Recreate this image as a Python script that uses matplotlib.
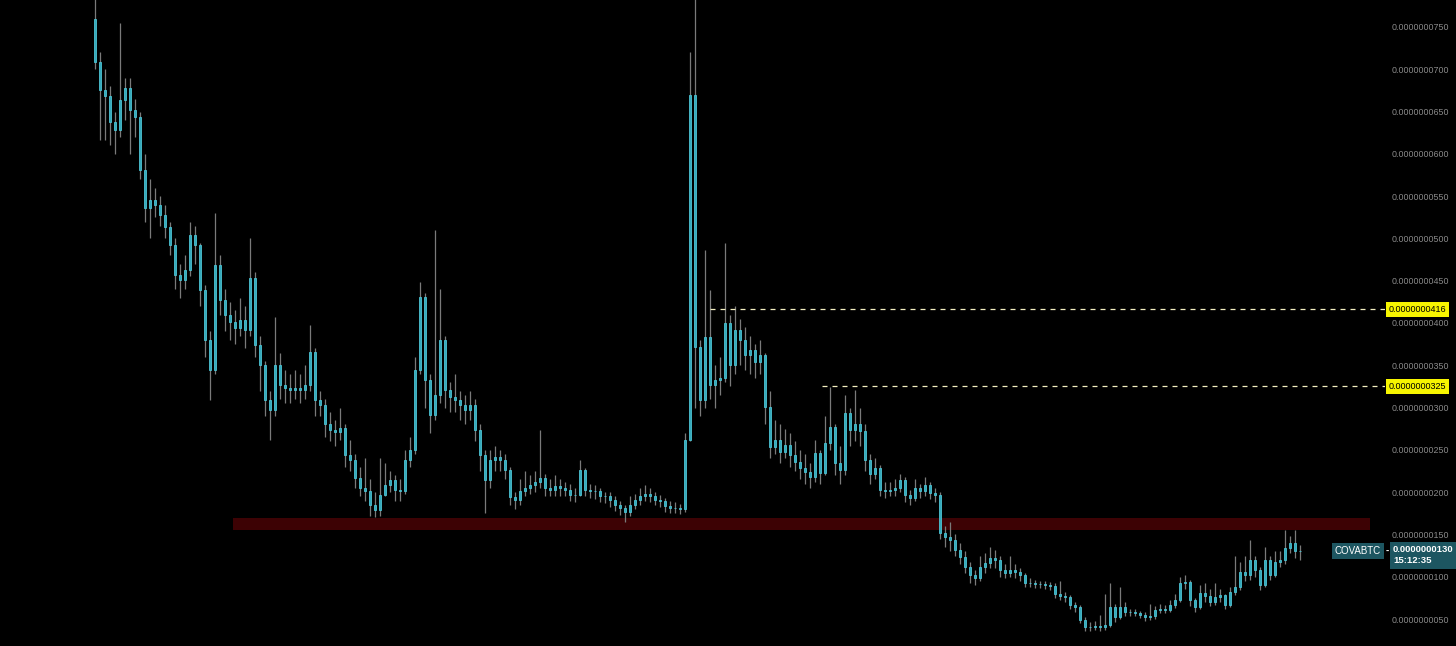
import matplotlib
matplotlib.use("Agg")
import numpy as np
import matplotlib.pyplot as plt
from matplotlib.patches import Rectangle

plt.rcParams['font.family'] = ['Liberation Sans', 'DejaVu Sans']

# prices in units of 1e-10 BTC (0.0000000750 -> 750)
first_open = 760
closes = [
    709, 676, 668, 638, 628, 664, 678, 652, 643, 581,
    536, 545, 540, 528, 513, 492, 457, 451, 463, 504,
    492, 439, 380, 344, 469, 427, 410, 401, 394, 404,
    392, 453, 374, 350, 309, 297, 350, 327, 323, 321,
    323, 321, 327, 366, 309, 303, 280, 274, 271, 276,
    244, 238, 217, 205, 201, 185, 179, 197, 209, 214,
    203, 201, 238, 250, 344, 431, 333, 291, 315, 380,
    321, 312, 309, 303, 297, 303, 274, 244, 214, 238,
    241, 238, 226, 194, 191, 201, 205, 209, 212, 217,
    205, 203, 207, 205, 203, 197, 197, 226, 203, 201,
    201, 196, 195, 191, 185, 181, 177, 185, 191, 195,
    198, 196, 191, 189, 184, 181, 181, 180, 262, 670,
    372, 309, 383, 327, 333, 335, 400, 350, 392, 380,
    362, 368, 354, 362, 301, 253, 262, 248, 256, 244,
    236, 229, 224, 218, 246, 223, 258, 277, 235, 226,
    294, 274, 280, 272, 238, 221, 229, 203, 201, 203,
    205, 214, 197, 193, 205, 201, 209, 199, 197, 152,
    147, 143, 132, 123, 112, 102, 98, 112, 116, 122,
    120, 108, 104, 108, 106, 102, 93, 93, 91, 91,
    90, 89, 80, 77, 76, 67, 64, 49, 41, 41,
    42, 40, 43, 64, 52, 64, 58, 58, 57, 55,
    52, 54, 61, 62, 61, 67, 72, 93, 94, 72,
    64, 81, 77, 70, 76, 78, 67, 82, 88, 106,
    102, 120, 108, 90, 120, 102, 118, 120, 134, 140,
    131, 130,
]
highs = [
    800, 720, 700, 680, 650, 755, 690, 690, 665, 650,
    600, 570, 560, 550, 540, 520, 500, 470, 480, 520,
    515, 495, 445, 390, 530, 480, 440, 425, 415, 430,
    420, 501, 460, 385, 355, 320, 407, 365, 345, 340,
    345, 340, 350, 398, 370, 320, 310, 295, 285, 300,
    280, 262, 245, 230, 240, 215, 200, 240, 235, 225,
    220, 215, 250, 265, 360, 449, 435, 340, 510, 440,
    385, 330, 340, 320, 315, 320, 310, 280, 250, 250,
    255, 250, 245, 230, 200, 215, 225, 220, 225, 274,
    222, 215, 220, 215, 212, 210, 205, 238, 228, 210,
    208, 205, 200, 200, 195, 190, 185, 195, 198, 205,
    208, 205, 200, 197, 193, 190, 188, 186, 270, 720,
    790, 380, 486, 439, 350, 360, 495, 410, 420, 405,
    395, 385, 375, 380, 365, 320, 285, 280, 275, 270,
    260, 250, 245, 235, 262, 250, 290, 324, 280, 255,
    315, 300, 321, 300, 280, 245, 240, 232, 212, 212,
    215, 222, 218, 202, 215, 210, 218, 212, 205, 200,
    160, 165, 150, 140, 130, 118, 108, 125, 128, 135,
    132, 125, 115, 125, 115, 110, 105, 98, 96, 95,
    95, 94, 92, 95, 82, 78, 70, 67, 52, 46,
    48, 55, 80, 93, 68, 88, 70, 62, 62, 60,
    58, 68, 65, 68, 67, 72, 80, 100, 102, 96,
    75, 90, 92, 85, 92, 85, 80, 88, 125, 118,
    125, 143, 125, 112, 135, 125, 130, 130, 155, 148,
    155, 138,
]
lows = [
    700, 616, 616, 610, 600, 620, 640, 600, 620, 570,
    520, 500, 525, 515, 500, 480, 440, 430, 440, 455,
    470, 420, 360, 309, 340, 410, 390, 380, 375, 385,
    370, 385, 360, 320, 290, 262, 290, 310, 305, 305,
    310, 305, 310, 320, 290, 290, 265, 260, 255, 262,
    230, 225, 205, 195, 190, 172, 171, 172, 195, 200,
    190, 190, 198, 230, 245, 340, 300, 270, 285, 305,
    300, 295, 295, 285, 280, 285, 260, 225, 175, 205,
    225, 225, 215, 185, 180, 185, 195, 198, 200, 205,
    195, 195, 195, 196, 195, 190, 188, 195, 195, 193,
    192, 188, 187, 182, 178, 173, 165, 172, 180, 185,
    190, 188, 185, 182, 177, 175, 175, 174, 176, 260,
    300, 290, 300, 310, 300, 315, 330, 325, 340, 350,
    345, 340, 335, 340, 280, 240, 245, 235, 240, 230,
    225, 215, 210, 205, 212, 210, 220, 250, 220, 210,
    220, 255, 260, 255, 225, 210, 215, 195, 193, 195,
    196, 200, 188, 185, 190, 193, 196, 192, 188, 145,
    135, 130, 125, 115, 105, 92, 90, 95, 105, 110,
    110, 100, 98, 100, 98, 95, 88, 88, 87, 87,
    86, 84, 75, 72, 70, 62, 58, 45, 36, 36,
    37, 36, 37, 40, 47, 50, 54, 54, 53, 51,
    48, 49, 50, 57, 57, 58, 63, 70, 85, 65,
    58, 62, 70, 65, 66, 70, 62, 64, 78, 84,
    95, 96, 100, 84, 88, 96, 100, 112, 115, 128,
    122, 120,
]

tick_values = [50, 100, 150, 200, 250, 300, 350, 400, 450, 500, 550, 600, 650, 700, 750]
zone_low, zone_high = 155, 169
zone_start, zone_end = 27.6, 255
level_lines = [(416, 123), (325, 145.4)]
last_price = 130
symbol = "COVABTC"
countdown = "15:12:35"


def fmt(v):
    return f"{v * 1e-10:.10f}"


opens = [first_open] + closes[:-1]
idx = np.arange(len(closes))
o = np.array(opens, dtype=float)
c = np.array(closes, dtype=float)

bg = "#000000"
tag_color = "#1d5661"
fig = plt.figure(figsize=(14.56, 6.46), dpi=100, facecolor=bg)
ax = fig.add_axes([0, 0, 1385 / 1456, 1])
ax.set_facecolor(bg)

# wicks then bodies
ax.vlines(idx, lows, highs, color="#7a7a7a", linewidth=0.9, zorder=2)
ax.bar(idx, np.abs(c - o), bottom=np.minimum(o, c), width=0.5,
       color="#36a9bb", edgecolor="#4cc4d4", linewidth=0.6, zorder=3)

# support zone
ax.add_patch(Rectangle((zone_start, zone_low), zone_end - zone_start, zone_high - zone_low,
                       facecolor="#3d0204", edgecolor="none", zorder=1))

ax.set_xlim(-19, (1385 - 95) / 5)
ax.set_ylim(18.1, 781.9)

# horizontal levels with yellow labels
for lvl, start in level_lines:
    ax.plot([start, ax.get_xlim()[1]], [lvl, lvl], color="#f3efc0", linewidth=0.9,
            dashes=(4, 4), zorder=4)
    ax.annotate(fmt(lvl), xy=(1, lvl), xycoords=("axes fraction", "data"),
                xytext=(4, 0), textcoords="offset pixels", ha="left", va="center",
                fontsize=6.5, color="#000000", annotation_clip=False,
                bbox=dict(boxstyle="square,pad=0.3", facecolor="#f7f500", edgecolor="none"))

# price axis on right
ax.yaxis.tick_right()
ax.set_yticks(tick_values)
ax.set_yticklabels([fmt(v) for v in tick_values])
ax.tick_params(axis="y", length=0, pad=5, labelsize=6.4, labelcolor="#8a8a8a")
ax.set_xticks([])
for s in ax.spines.values():
    s.set_visible(False)

# last price tag
ax.annotate(symbol, xy=(1, last_price), xycoords=("axes fraction", "data"),
            xytext=(-4, 0), textcoords="offset pixels", ha="right", va="center",
            fontsize=7, color="white", annotation_clip=False,
            bbox=dict(boxstyle="square,pad=0.3", facecolor=tag_color, edgecolor="none"))
ax.annotate(fmt(last_price) + "\n" + countdown, xy=(1, last_price),
            xycoords=("axes fraction", "data"), xytext=(8, 6), textcoords="offset pixels",
            ha="left", va="top", fontsize=6.8, color="white", fontweight="bold",
            linespacing=1.3, annotation_clip=False,
            bbox=dict(boxstyle="square,pad=0.35", facecolor=tag_color, edgecolor="none"))
ax.annotate("-", xy=(1, last_price), xycoords=("axes fraction", "data"),
            xytext=(1, 0), textcoords="offset pixels", ha="left", va="center",
            fontsize=7, color="white", fontweight="bold", annotation_clip=False)

fig.savefig("out.png", dpi=100, facecolor=bg)
